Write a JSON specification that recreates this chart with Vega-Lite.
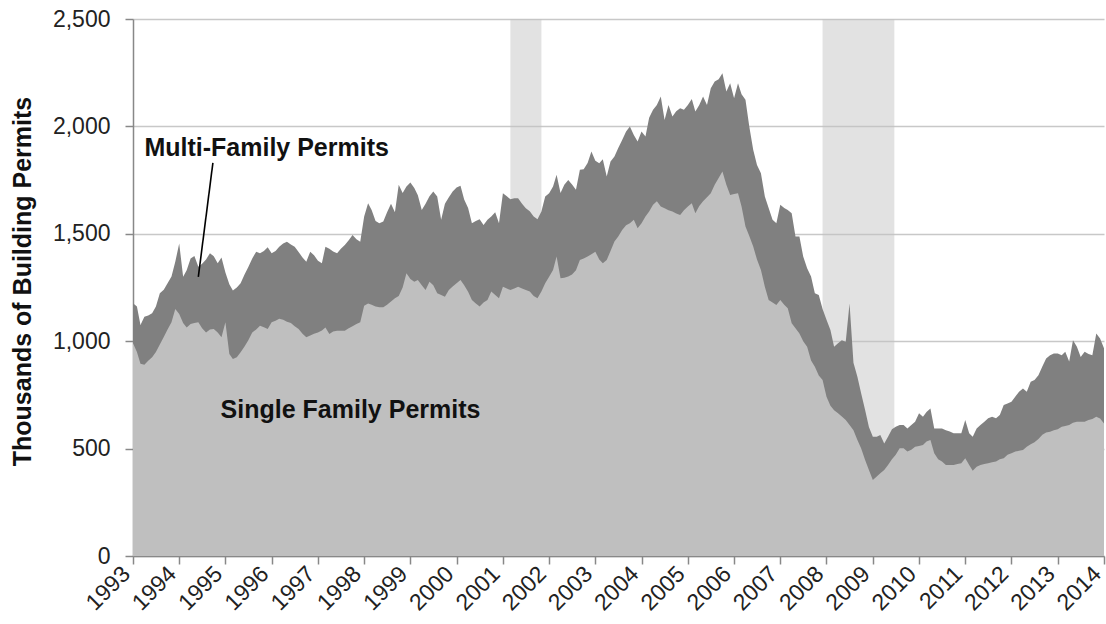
{
  "$schema": "https://vega.github.io/schema/vega-lite/v6.json",
  "width": 971,
  "height": 537,
  "autosize": {"type": "none"},
  "padding": {"left": 133, "top": 19, "right": 2, "bottom": 68},
  "background": "white",
  "config": {
    "view": {"stroke": null},
    "font": "Liberation Sans",
    "axisX": {"domainColor": "#888888", "tickColor": "#888888", "tickSize": 8, "domainWidth": 1.5, "tickWidth": 1.5, "labelAngle": -45, "labelAlign": "right", "labelBaseline": "middle", "labelFontSize": 23, "labelColor": "#222222", "labelPadding": 6, "labelOffset": -7, "grid": false, "labelOverlap": false, "labelFlush": false, "labelFont": "Liberation Sans"},
    "axisY": {"domainColor": "#888888", "tickColor": "#888888", "tickSize": 8, "domainWidth": 1.5, "tickWidth": 1.5, "labelFontSize": 23, "labelColor": "#222222", "labelPadding": 15, "grid": true, "gridColor": "#c8c8c8", "gridWidth": 1.3, "labelFont": "Liberation Sans", "titleFont": "Liberation Sans", "titleFontSize": 25, "titleFontWeight": "bold", "titleColor": "#111111", "titleX": -111, "titleY": 262, "titleBaseline": "middle", "titleAlign": "center"}
  },
  "data": {
    "format": {"parse": {"d": "date:'%Y-%m'"}},
    "values": [
      {"d":"1993-01","t":1177,"s":990},{"d":"1993-02","t":1161,"s":950},{"d":"1993-03","t":1076,"s":895},{"d":"1993-04","t":1114,"s":890},{"d":"1993-05","t":1120,"s":909},{"d":"1993-06","t":1130,"s":925},{"d":"1993-07","t":1161,"s":950},{"d":"1993-08","t":1223,"s":985},{"d":"1993-09","t":1240,"s":1020},{"d":"1993-10","t":1270,"s":1055},{"d":"1993-11","t":1301,"s":1088},{"d":"1993-12","t":1370,"s":1150},
      {"d":"1994-01","t":1455,"s":1127},{"d":"1994-02","t":1300,"s":1085},{"d":"1994-03","t":1330,"s":1064},{"d":"1994-04","t":1385,"s":1080},{"d":"1994-05","t":1397,"s":1085},{"d":"1994-06","t":1347,"s":1088},{"d":"1994-07","t":1360,"s":1060},{"d":"1994-08","t":1380,"s":1041},{"d":"1994-09","t":1410,"s":1055},{"d":"1994-10","t":1395,"s":1057},{"d":"1994-11","t":1363,"s":1041},{"d":"1994-12","t":1390,"s":1018},
      {"d":"1995-01","t":1320,"s":1088},{"d":"1995-02","t":1265,"s":940},{"d":"1995-03","t":1236,"s":917},{"d":"1995-04","t":1250,"s":925},{"d":"1995-05","t":1270,"s":948},{"d":"1995-06","t":1310,"s":975},{"d":"1995-07","t":1345,"s":1005},{"d":"1995-08","t":1385,"s":1040},{"d":"1995-09","t":1417,"s":1055},{"d":"1995-10","t":1410,"s":1072},{"d":"1995-11","t":1420,"s":1065},{"d":"1995-12","t":1437,"s":1057},
      {"d":"1996-01","t":1409,"s":1088},{"d":"1996-02","t":1420,"s":1095},{"d":"1996-03","t":1440,"s":1104},{"d":"1996-04","t":1455,"s":1100},{"d":"1996-05","t":1463,"s":1090},{"d":"1996-06","t":1450,"s":1085},{"d":"1996-07","t":1440,"s":1070},{"d":"1996-08","t":1415,"s":1057},{"d":"1996-09","t":1390,"s":1035},{"d":"1996-10","t":1370,"s":1018},{"d":"1996-11","t":1417,"s":1026},{"d":"1996-12","t":1400,"s":1035},
      {"d":"1997-01","t":1375,"s":1041},{"d":"1997-02","t":1363,"s":1050},{"d":"1997-03","t":1440,"s":1064},{"d":"1997-04","t":1430,"s":1033},{"d":"1997-05","t":1418,"s":1045},{"d":"1997-06","t":1409,"s":1049},{"d":"1997-07","t":1430,"s":1049},{"d":"1997-08","t":1448,"s":1049},{"d":"1997-09","t":1470,"s":1060},{"d":"1997-10","t":1494,"s":1070},{"d":"1997-11","t":1475,"s":1080},{"d":"1997-12","t":1463,"s":1088},
      {"d":"1998-01","t":1580,"s":1165},{"d":"1998-02","t":1642,"s":1175},{"d":"1998-03","t":1611,"s":1170},{"d":"1998-04","t":1560,"s":1161},{"d":"1998-05","t":1549,"s":1158},{"d":"1998-06","t":1557,"s":1158},{"d":"1998-07","t":1600,"s":1170},{"d":"1998-08","t":1640,"s":1185},{"d":"1998-09","t":1600,"s":1200},{"d":"1998-10","t":1728,"s":1210},{"d":"1998-11","t":1690,"s":1250},{"d":"1998-12","t":1720,"s":1316},
      {"d":"1999-01","t":1739,"s":1290},{"d":"1999-02","t":1713,"s":1277},{"d":"1999-03","t":1680,"s":1285},{"d":"1999-04","t":1611,"s":1260},{"d":"1999-05","t":1640,"s":1238},{"d":"1999-06","t":1675,"s":1277},{"d":"1999-07","t":1697,"s":1260},{"d":"1999-08","t":1674,"s":1223},{"d":"1999-09","t":1565,"s":1215},{"d":"1999-10","t":1640,"s":1207},{"d":"1999-11","t":1670,"s":1238},{"d":"1999-12","t":1697,"s":1255},
      {"d":"2000-01","t":1715,"s":1270},{"d":"2000-02","t":1724,"s":1285},{"d":"2000-03","t":1660,"s":1260},{"d":"2000-04","t":1620,"s":1230},{"d":"2000-05","t":1549,"s":1192},{"d":"2000-06","t":1560,"s":1175},{"d":"2000-07","t":1568,"s":1161},{"d":"2000-08","t":1541,"s":1180},{"d":"2000-09","t":1565,"s":1192},{"d":"2000-10","t":1580,"s":1231},{"d":"2000-11","t":1600,"s":1215},{"d":"2000-12","t":1549,"s":1200},
      {"d":"2001-01","t":1689,"s":1254},{"d":"2001-02","t":1675,"s":1245},{"d":"2001-03","t":1661,"s":1238},{"d":"2001-04","t":1665,"s":1245},{"d":"2001-05","t":1666,"s":1254},{"d":"2001-06","t":1640,"s":1245},{"d":"2001-07","t":1619,"s":1238},{"d":"2001-08","t":1605,"s":1231},{"d":"2001-09","t":1580,"s":1210},{"d":"2001-10","t":1568,"s":1200},{"d":"2001-11","t":1604,"s":1231},{"d":"2001-12","t":1674,"s":1270},
      {"d":"2002-01","t":1689,"s":1300},{"d":"2002-02","t":1720,"s":1332},{"d":"2002-03","t":1775,"s":1394},{"d":"2002-04","t":1690,"s":1293},{"d":"2002-05","t":1728,"s":1295},{"d":"2002-06","t":1751,"s":1301},{"d":"2002-07","t":1730,"s":1310},{"d":"2002-08","t":1705,"s":1330},{"d":"2002-09","t":1798,"s":1378},{"d":"2002-10","t":1800,"s":1385},{"d":"2002-11","t":1830,"s":1394},{"d":"2002-12","t":1883,"s":1405},
      {"d":"2003-01","t":1840,"s":1417},{"d":"2003-02","t":1829,"s":1380},{"d":"2003-03","t":1847,"s":1363},{"d":"2003-04","t":1767,"s":1378},{"d":"2003-05","t":1837,"s":1420},{"d":"2003-06","t":1860,"s":1464},{"d":"2003-07","t":1900,"s":1487},{"d":"2003-08","t":1937,"s":1518},{"d":"2003-09","t":1976,"s":1540},{"d":"2003-10","t":1999,"s":1549},{"d":"2003-11","t":1960,"s":1565},{"d":"2003-12","t":1930,"s":1526},
      {"d":"2004-01","t":1976,"s":1549},{"d":"2004-02","t":1953,"s":1580},{"d":"2004-03","t":2040,"s":1604},{"d":"2004-04","t":2077,"s":1635},{"d":"2004-05","t":2100,"s":1651},{"d":"2004-06","t":2139,"s":1627},{"d":"2004-07","t":2030,"s":1619},{"d":"2004-08","t":2100,"s":1610},{"d":"2004-09","t":2046,"s":1604},{"d":"2004-10","t":2070,"s":1595},{"d":"2004-11","t":2085,"s":1588},{"d":"2004-12","t":2077,"s":1610},
      {"d":"2005-01","t":2100,"s":1627},{"d":"2005-02","t":2127,"s":1642},{"d":"2005-03","t":2069,"s":1596},{"d":"2005-04","t":2100,"s":1630},{"d":"2005-05","t":2139,"s":1651},{"d":"2005-06","t":2100,"s":1670},{"d":"2005-07","t":2178,"s":1689},{"d":"2005-08","t":2209,"s":1728},{"d":"2005-09","t":2220,"s":1760},{"d":"2005-10","t":2248,"s":1790},{"d":"2005-11","t":2162,"s":1728},{"d":"2005-12","t":2201,"s":1681},
      {"d":"2006-01","t":2131,"s":1685},{"d":"2006-02","t":2201,"s":1689},{"d":"2006-03","t":2150,"s":1627},{"d":"2006-04","t":2124,"s":1534},{"d":"2006-05","t":1999,"s":1490},{"d":"2006-06","t":1891,"s":1441},{"d":"2006-07","t":1820,"s":1380},{"d":"2006-08","t":1782,"s":1332},{"d":"2006-09","t":1674,"s":1254},{"d":"2006-10","t":1620,"s":1192},{"d":"2006-11","t":1565,"s":1180},{"d":"2006-12","t":1549,"s":1169},
      {"d":"2007-01","t":1635,"s":1192},{"d":"2007-02","t":1620,"s":1170},{"d":"2007-03","t":1611,"s":1153},{"d":"2007-04","t":1596,"s":1083},{"d":"2007-05","t":1487,"s":1060},{"d":"2007-06","t":1487,"s":1036},{"d":"2007-07","t":1394,"s":1000},{"d":"2007-08","t":1340,"s":974},{"d":"2007-09","t":1301,"s":910},{"d":"2007-10","t":1223,"s":881},{"d":"2007-11","t":1215,"s":840},{"d":"2007-12","t":1150,"s":819},
      {"d":"2008-01","t":1100,"s":741},{"d":"2008-02","t":1052,"s":700},{"d":"2008-03","t":974,"s":679},{"d":"2008-04","t":990,"s":664},{"d":"2008-05","t":1005,"s":650},{"d":"2008-06","t":997,"s":633},{"d":"2008-07","t":1176,"s":610},{"d":"2008-08","t":900,"s":586},{"d":"2008-09","t":834,"s":540},{"d":"2008-10","t":756,"s":500},{"d":"2008-11","t":680,"s":447},{"d":"2008-12","t":600,"s":400},
      {"d":"2009-01","t":555,"s":354},{"d":"2009-02","t":555,"s":370},{"d":"2009-03","t":563,"s":385},{"d":"2009-04","t":524,"s":400},{"d":"2009-05","t":555,"s":424},{"d":"2009-06","t":590,"s":450},{"d":"2009-07","t":602,"s":471},{"d":"2009-08","t":610,"s":502},{"d":"2009-09","t":610,"s":502},{"d":"2009-10","t":594,"s":486},{"d":"2009-11","t":610,"s":495},{"d":"2009-12","t":625,"s":509},
      {"d":"2010-01","t":664,"s":512},{"d":"2010-02","t":648,"s":517},{"d":"2010-03","t":670,"s":533},{"d":"2010-04","t":687,"s":540},{"d":"2010-05","t":594,"s":478},{"d":"2010-06","t":594,"s":450},{"d":"2010-07","t":594,"s":440},{"d":"2010-08","t":586,"s":424},{"d":"2010-09","t":580,"s":424},{"d":"2010-10","t":571,"s":424},{"d":"2010-11","t":571,"s":428},{"d":"2010-12","t":571,"s":432},
      {"d":"2011-01","t":633,"s":455},{"d":"2011-02","t":571,"s":424},{"d":"2011-03","t":555,"s":397},{"d":"2011-04","t":594,"s":416},{"d":"2011-05","t":610,"s":424},{"d":"2011-06","t":625,"s":428},{"d":"2011-07","t":641,"s":432},{"d":"2011-08","t":648,"s":436},{"d":"2011-09","t":641,"s":440},{"d":"2011-10","t":656,"s":450},{"d":"2011-11","t":703,"s":455},{"d":"2011-12","t":710,"s":471},
      {"d":"2012-01","t":718,"s":478},{"d":"2012-02","t":742,"s":486},{"d":"2012-03","t":765,"s":490},{"d":"2012-04","t":780,"s":494},{"d":"2012-05","t":765,"s":509},{"d":"2012-06","t":811,"s":520},{"d":"2012-07","t":819,"s":530},{"d":"2012-08","t":842,"s":545},{"d":"2012-09","t":882,"s":564},{"d":"2012-10","t":920,"s":575},{"d":"2012-11","t":935,"s":579},{"d":"2012-12","t":943,"s":586},
      {"d":"2013-01","t":943,"s":590},{"d":"2013-02","t":935,"s":602},{"d":"2013-03","t":951,"s":605},{"d":"2013-04","t":905,"s":610},{"d":"2013-05","t":1005,"s":620},{"d":"2013-06","t":974,"s":625},{"d":"2013-07","t":927,"s":625},{"d":"2013-08","t":951,"s":625},{"d":"2013-09","t":940,"s":633},{"d":"2013-10","t":935,"s":638},{"d":"2013-11","t":1036,"s":648},{"d":"2013-12","t":1013,"s":640},
      {"d":"2014-01","t":967,"s":617}
    ]
  },
  "layer": [
    {
      "data": {
        "format": {"parse": {"a": "date:'%Y-%m-%d'", "b": "date:'%Y-%m-%d'"}},
        "values": [
          {"a": "2001-03-01", "b": "2001-11-01"},
          {"a": "2007-12-01", "b": "2009-06-20"}
        ]
      },
      "mark": {"type": "rect", "color": "#c2c2c2", "opacity": 0.48},
      "encoding": {
        "x": {"field": "a", "type": "temporal", "title": null},
        "x2": {"field": "b"}
      }
    },
    {
      "mark": {"type": "area", "color": "#808080", "interpolate": "linear"},
      "encoding": {
        "x": {
          "field": "d", "type": "temporal", "title": null,
          "scale": {"domain": [{"year": 1993, "month": 1, "date": 1}, {"year": 2014, "month": 1, "date": 1}], "nice": false},
          "axis": {"format": "%Y", "tickCount": {"interval": "year", "step": 1}, "title": null}
        },
        "y": {
          "field": "t", "type": "quantitative",
          "scale": {"domain": [0, 2500], "nice": false},
          "axis": {"values": [0, 500, 1000, 1500, 2000, 2500], "format": ",d", "title": "Thousands  of Building Permits"}
        }
      }
    },
    {
      "mark": {"type": "area", "color": "#bfbfbf", "interpolate": "linear"},
      "encoding": {
        "x": {"field": "d", "type": "temporal", "title": null},
        "y": {"field": "s", "type": "quantitative", "title": "Thousands  of Building Permits"}
      }
    },
    {
      "data": {
        "format": {"parse": {"a": "date:'%Y-%m-%d'", "b": "date:'%Y-%m-%d'"}},
        "values": [{"a": "1994-09-24", "v": 1830, "b": "1994-06-01", "v2": 1299}]
      },
      "mark": {"type": "rule", "color": "#000000", "strokeWidth": 1.6},
      "encoding": {
        "x": {"field": "a", "type": "temporal", "title": null},
        "x2": {"field": "b"},
        "y": {"field": "v", "type": "quantitative", "title": "Thousands  of Building Permits"},
        "y2": {"field": "v2"}
      }
    },
    {
      "data": {
        "format": {"parse": {"a": "date:'%Y-%m-%d'"}},
        "values": [
          {"a": "1993-04-01", "v": 1900, "label": "Multi-Family Permits"},
          {"a": "1994-11-24", "v": 680, "label": "Single Family Permits"}
        ]
      },
      "mark": {"type": "text", "align": "left", "baseline": "middle", "font": "Liberation Sans", "fontSize": 25, "fontWeight": "bold", "color": "#111111"},
      "encoding": {
        "x": {"field": "a", "type": "temporal", "title": null},
        "y": {"field": "v", "type": "quantitative", "title": "Thousands  of Building Permits"},
        "text": {"field": "label"}
      }
    }
  ]
}
